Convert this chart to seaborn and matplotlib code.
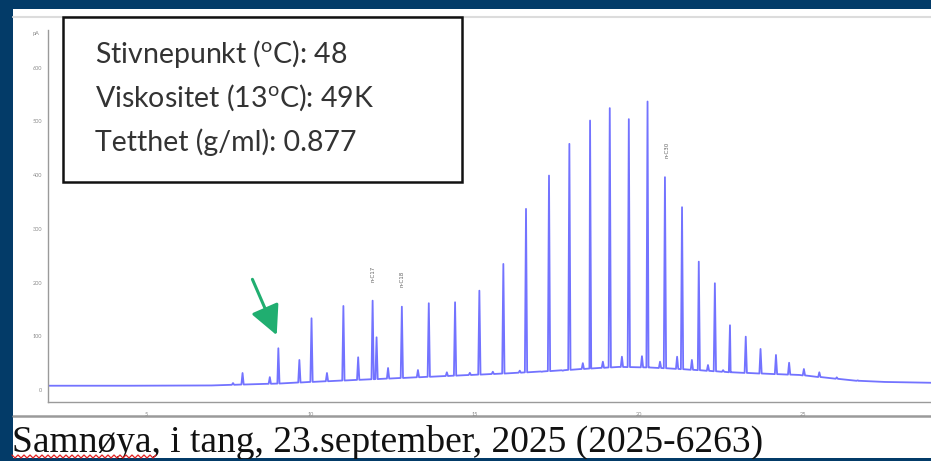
import numpy as np
import pandas as pd
import matplotlib
matplotlib.use("Agg")
import matplotlib.pyplot as plt
import seaborn as sns
from matplotlib.patches import Rectangle
from matplotlib.lines import Line2D
from matplotlib.ticker import MultipleLocator, FixedLocator

# ---------------- data ----------------
peak_times = [7.65, 7.94, 8.77, 9.03, 9.67, 10.04, 10.51, 11.01, 11.46, 11.90, 12.02,
              12.37, 12.79, 13.28, 13.61, 14.16, 14.41, 14.86, 15.15, 15.56, 15.88,
              16.38, 16.57, 17.05, 17.27, 17.69, 17.89, 18.30, 18.52, 18.91, 19.12,
              19.49, 19.70, 20.10, 20.27, 20.65, 20.80, 21.17, 21.32, 21.62, 21.83,
              22.11, 22.32, 22.57, 22.78, 23.26, 23.71, 24.18, 24.58, 25.03, 25.50,
              26.03, 26.67]
peak_apex = [13, 31.7, 24, 77.7, 55.9, 133.5, 31.7, 156.4, 60.9, 166.3, 98.1,
             41.0, 155.1, 37.2, 161.5, 33, 163.3, 32, 184.9, 34, 234.6,
             36, 337.1, 34, 399.1, 36, 458.1, 50, 501.5, 52.7, 524.6,
             62, 504.1, 63, 536.9, 52.7, 396.1, 62, 340.2, 56, 238.9,
             46.5, 198.7, 37, 120.5, 99.3, 76.4, 65.2, 50.8, 39.1, 33.0,
             23.6, 18]
base_times = [2.0, 4.5, 7.0, 7.8, 9.0, 10.0, 11.5, 13.0, 14.5, 16.0, 17.5, 18.5,
              19.4, 20.3, 21.0, 21.8, 22.8, 24.0, 24.9, 26.0, 26.7, 27.5, 28.9]
base_values = [8, 8, 8.5, 10, 12, 15, 19, 23, 27, 31, 36, 40,
               43, 42, 40, 37, 33, 30, 28, 21, 17, 15, 13.5]

label_names = ["n-C17", "n-C18", "n-C30"]
label_times = [11.90, 12.79, 20.85]
label_values = [216, 207, 447]

arrow_tail = (8.24, 206)
arrow_tip = (8.98, 102)

x_ticks = [5, 10, 15, 20, 25]
y_ticks = [0, 100, 200, 300, 400, 500, 600]
y_unit = "pA"

info_lines = [r"Stivnepunkt ($^{\mathrm{o}}$C): 48",
              r"Viskositet (13$^{\mathrm{o}}$C): 49K",
              r"Tetthet (g/ml): 0.877"]
caption = "Samnøya, i tang, 23.september, 2025 (2025-6263)"

# ---------------- style ----------------
sns.set_style("white")
plt.rcParams["font.family"] = ["Lato", "DejaVu Sans"]
plt.rcParams["mathtext.fontset"] = "custom"
plt.rcParams["mathtext.rm"] = "Lato"
plt.rcParams["mathtext.it"] = "Lato:italic"

W, H = 931, 461
FRAME = "#033b68"
LINE = "#5a5aff"

def fx(x):
    return x / W

def fy(y):
    return 1 - y / H

fig = plt.figure(figsize=(W / 100, H / 100), dpi=100)
fig.patch.set_facecolor(FRAME)

# white page area
fig.add_artist(Rectangle((fx(13), fy(458)), fx(W - 13), (458 - 9) / H,
                         transform=fig.transFigure, facecolor="white",
                         edgecolor="none", zorder=-5))
# borders of embedded chromatogram image
fig.add_artist(Line2D([fx(13), 1], [fy(17), fy(17)], transform=fig.transFigure,
                      color="#dcdcdc", lw=1.5, zorder=-4))
fig.add_artist(Line2D([fx(13), 1], [fy(416), fy(416)], transform=fig.transFigure,
                      color="#9a9a9a", lw=1.8, zorder=-4))

# ---------------- chromatogram ----------------
ax = fig.add_axes([fx(48), 1 - 402 / H, fx(W - 48), (402 - 30) / H])
ax.patch.set_alpha(0)
ax.set_zorder(1)

hw = 0.035
pts_t = list(base_times)
pts_v = list(base_values)
for t, a in zip(peak_times, peak_apex):
    b = float(np.interp(t, base_times, base_values))
    pts_t += [t - hw, t, t + hw]
    pts_v += [b, a, b]
order = np.argsort(pts_t, kind="stable")
df = pd.DataFrame({"t": np.array(pts_t)[order], "v": np.array(pts_v)[order]})
sns.lineplot(data=df, x="t", y="v", ax=ax, sort=False, estimator=None,
             color=LINE, lw=1.3, alpha=0.85)

ax.set_xlim(2.017, 28.90)
ax.set_ylim(-22.3, 670)
ax.set_xlabel("")
ax.set_ylabel("")
for s in ["top", "right"]:
    ax.spines[s].set_visible(False)
for s in ["left", "bottom"]:
    ax.spines[s].set_color("#9a9a9a")
    ax.spines[s].set_linewidth(1.0)
ax.xaxis.set_major_locator(FixedLocator(x_ticks))
ax.xaxis.set_minor_locator(MultipleLocator(1))
ax.yaxis.set_major_locator(FixedLocator(y_ticks))
ax.yaxis.set_minor_locator(MultipleLocator(20))
ax.set_xticklabels([str(v) for v in x_ticks])
ax.set_yticklabels([str(v) for v in y_ticks])
ax.tick_params(axis="both", which="major", direction="out", color="#9a9a9a",
               labelcolor="#8a8a8a", labelsize=4)
ax.tick_params(axis="x", which="major", length=6, width=0.8, pad=1)
ax.tick_params(axis="x", which="minor", length=2.5, width=0.6, color="#9a9a9a")
ax.tick_params(axis="y", which="major", length=3, width=0.8, pad=1)
ax.tick_params(axis="y", which="minor", length=2, width=0.6, color="#9a9a9a")
ax.text(-0.01, 0.99, y_unit, transform=ax.transAxes, ha="right", va="center",
        fontsize=4, color="#8a8a8a")

for name, t, v in zip(label_names, label_times, label_values):
    ax.text(t, v, name, rotation=90, ha="center", va="center",
            fontsize=4, color="#606060", family="DejaVu Sans")

ax.annotate("", xy=arrow_tip, xytext=arrow_tail,
            arrowprops=dict(arrowstyle="-|>,head_length=0.9,head_width=0.45",
                            mutation_scale=20, lw=2.2, color="#20ae70",
                            shrinkA=0, shrinkB=0))

# ---------------- info box ----------------
fig.add_artist(Rectangle((fx(63), fy(182)), fx(462 - 63), (182 - 17) / H,
                         transform=fig.transFigure, facecolor="white",
                         edgecolor="#111111", lw=1.8, zorder=5))
for i, line in enumerate(info_lines):
    fig.text(fx(95), fy(54 + 44 * i), line, ha="left", va="center",
             fontsize=20.5, color="#333333", zorder=6)

# ---------------- caption ----------------
fig.text(fx(12), fy(452), caption, ha="left", va="baseline",
         family=["Liberation Serif", "DejaVu Serif"], fontsize=27,
         color="#111111", zorder=6)
zx = np.arange(12, 157, 3)
zy = np.where(np.arange(len(zx)) % 2 == 0, 455, 458)
fig.add_artist(Line2D(fx(zx), fy(zy), transform=fig.transFigure,
                      color="#e02020", lw=0.9, zorder=7))
# bottom edge of frame drawn over the page
fig.add_artist(Rectangle((0, 0), 1, fy(458.5), transform=fig.transFigure,
                         facecolor=FRAME, edgecolor="none", zorder=8))

fig.savefig("out.png", dpi=100, facecolor=fig.get_facecolor())
